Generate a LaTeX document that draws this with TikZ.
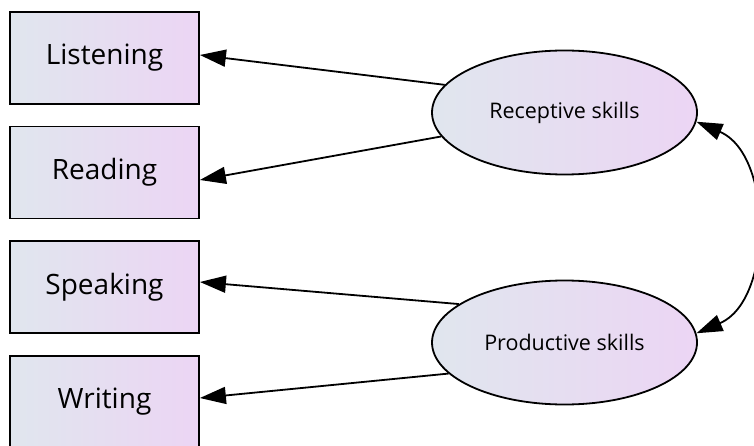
\documentclass[tikz,border=0pt]{standalone}
\usepackage{fontspec}
\setmainfont{Open Sans}
\usetikzlibrary{shapes.geometric,arrows.meta,calc}
\definecolor{gleft}{RGB}{224,230,238}
\definecolor{gright}{RGB}{236,213,244}
\tikzset{
  obsbox/.style={draw=black, line width=1.8pt, rectangle, left color=gleft, right color=gright,
    minimum width=189pt, minimum height=92pt, inner sep=0pt, font=\fontsize{28}{30}\selectfont},
  latent/.style={draw=black, line width=1.8pt, ellipse, left color=gleft, right color=gright,
    minimum width=265pt, minimum height=124pt, inner sep=0pt, font=\fontsize{21.5}{24}\selectfont},
  conn/.style={line width=1.8pt, -{Triangle[length=26pt,width=17pt]}},
  dconn/.style={line width=1.8pt, {Triangle[length=26pt,width=17pt]}-{Triangle[length=26pt,width=17pt]}}
}
\begin{document}
\begin{tikzpicture}[x=1pt,y=-1pt]
\useasboundingbox (0,0) rectangle (754,446);
\node[obsbox] (list) at (104.5,58) {Listening};
\node[obsbox] (read) at (104.5,172.5) {Reading};
\node[obsbox] (speak) at (104.5,287) {Speaking};
\node[obsbox] (write) at (104.5,402) {Writing};
\node[latent] (rec) at (564.5,112.5) {Receptive skills};
\node[latent] (pro) at (564.5,342.5) {Productive skills};
\draw[conn] (rec.167) -- ($(list.east)+(0,-3)$);
\draw[conn] (rec.191) -- ($(read.east)+(0,7.5)$);
\draw[conn] (pro.160) -- ($(speak.east)+(0,-5)$);
\draw[conn] (pro.195) -- ($(write.east)+(0,-4)$);
\draw[dconn] (rec.-4) .. controls ($(rec.-4)+(77,33)$) and ($(pro.4)+(77,-33)$) .. (pro.4);
\end{tikzpicture}
\end{document}
